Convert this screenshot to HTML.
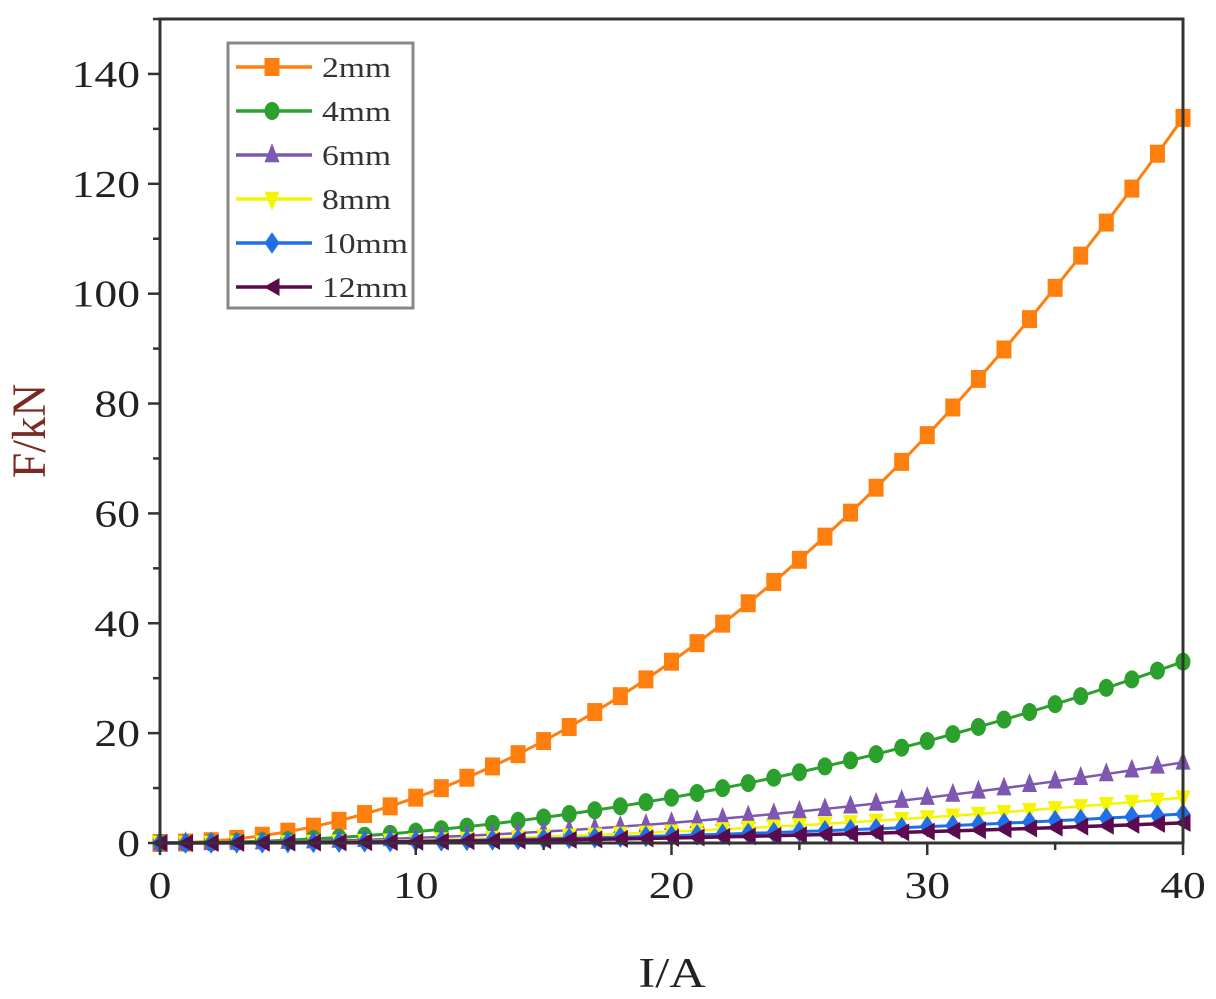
<!DOCTYPE html>
<html><head><meta charset="utf-8"><style>
body{margin:0;background:#fff}
svg{display:block;font-family:"Liberation Serif",serif}
</style></head><body>
<svg id="chart" width="1216" height="999" viewBox="0 0 1216 999">
<g id="marks"></g>
<g id="axes"></g>
<g id="legend"></g>
</svg>
<script>
const xValues=[0,1,2,3,4,5,6,7,8,9,10,11,12,13,14,15,16,17,18,19,20,21,22,23,24,25,26,27,28,29,30,31,32,33,34,35,36,37,38,39,40];
const s2mm=[0,0.08,0.33,0.74,1.32,2.06,2.97,4.04,5.28,6.68,8.25,9.98,11.88,13.94,16.17,18.56,21.12,23.84,26.73,29.78,33,36.38,39.93,43.64,47.52,51.56,55.77,60.14,64.68,69.38,74.25,79.28,84.48,89.84,95.37,101.06,106.92,112.94,119.13,125.48,132];
const s4mm=[0,0.02,0.08,0.19,0.33,0.52,0.74,1.01,1.32,1.67,2.06,2.5,2.97,3.49,4.04,4.64,5.28,5.96,6.68,7.45,8.25,9.1,9.98,10.91,11.88,12.89,13.94,15.04,16.17,17.35,18.56,19.82,21.12,22.46,23.84,25.27,26.73,28.24,29.78,31.37,33];
const s6mm=[0,0.01,0.04,0.08,0.15,0.23,0.33,0.45,0.59,0.74,0.92,1.11,1.32,1.55,1.8,2.06,2.35,2.65,2.97,3.31,3.67,4.04,4.44,4.85,5.28,5.73,6.2,6.68,7.19,7.71,8.25,8.81,9.39,9.98,10.6,11.23,11.88,12.55,13.24,13.94,14.67];
const s8mm=[0,0.01,0.02,0.05,0.08,0.13,0.19,0.25,0.33,0.42,0.52,0.62,0.74,0.87,1.01,1.16,1.32,1.49,1.67,1.86,2.06,2.27,2.5,2.73,2.97,3.22,3.49,3.76,4.04,4.34,4.64,4.96,5.28,5.61,5.96,6.32,6.68,7.06,7.45,7.84,8.25];
const s10mm=[0,0,0.01,0.03,0.05,0.08,0.12,0.16,0.21,0.27,0.33,0.4,0.48,0.56,0.65,0.74,0.84,0.95,1.07,1.19,1.32,1.46,1.6,1.75,1.9,2.06,2.23,2.41,2.59,2.78,2.97,3.17,3.38,3.59,3.81,4.04,4.28,4.52,4.77,5.02,5.28];
const s12mm=[0,0,0.01,0.02,0.04,0.06,0.08,0.11,0.15,0.19,0.23,0.28,0.33,0.39,0.45,0.52,0.59,0.66,0.74,0.83,0.92,1.01,1.11,1.21,1.32,1.43,1.55,1.67,1.8,1.93,2.06,2.2,2.35,2.5,2.65,2.81,2.97,3.14,3.31,3.49,3.67];
const seriesNames=["2mm","4mm","6mm","8mm","10mm","12mm"];
const xTicks=[0,10,20,30,40];
const yTicks=[0,20,40,60,80,100,120,140];

const NS="http://www.w3.org/2000/svg";
const X0=160,X1=1183,Y0=843,Y1=19,XMAX=40,YMAX=150;
function sx(v){return X0+(v/XMAX)*(X1-X0);}
function sy(v){return Y0-(v/YMAX)*(Y0-Y1);}
function mk(tag,attrs,parent){const e=document.createElementNS(NS,tag);for(const k in attrs)e.setAttribute(k,attrs[k]);parent.appendChild(e);return e;}
const styles=[
 {c:"#ff7f0e",m:"square",w:3},
 {c:"#2ca02c",m:"circle",w:3},
 {c:"#7e57b0",m:"up",w:2.5},
 {c:"#f5f500",m:"down",w:2.5},
 {c:"#1f6fe8",m:"diamond",w:3},
 {c:"#5c0a4e",m:"left",w:3.5}
];
const allSeries=[s2mm,s4mm,s6mm,s8mm,s10mm,s12mm];
function marker(g,type,x,y,c,r,h){
 let e;
 if(type==="square")e=mk("rect",{x:x-r,y:y-h,width:2*r,height:2*h,fill:c},g);
 else if(type==="circle")e=mk("ellipse",{cx:x,cy:y,rx:r,ry:h,fill:c},g);
 else if(type==="up")e=mk("polygon",{points:`${x},${y-h*1.3} ${x-r},${y+h*0.8} ${x+r},${y+h*0.8}`,fill:c},g);
 else if(type==="down")e=mk("polygon",{points:`${x},${y+h*1.3} ${x-r},${y-h*0.8} ${x+r},${y-h*0.8}`,fill:c},g);
 else if(type==="diamond")e=mk("polygon",{points:`${x},${y-h*1.2} ${x+r},${y} ${x},${y+h*1.2} ${x-r},${y}`,fill:c},g);
 else e=mk("polygon",{points:`${x-r*1.1},${y} ${x+r},${y-h} ${x+r},${y+h}`,fill:c},g);
 return e;
}
const marks=document.getElementById("marks");
allSeries.forEach((data,si)=>{
 const st=styles[si];
 const g=mk("g",{},marks);
 
 
 const pts=data.map((v,i)=>sx(xValues[i])+","+sy(v)).join(" ");
 const pl=mk("polyline",{points:pts,fill:"none",stroke:st.c,"stroke-width":st.w},g);
 
 
 data.forEach((v,i)=>{
  const m=marker(g,st.m,sx(xValues[i]),sy(v),st.c,7.5,9);
  
  
 });
});
const axes=document.getElementById("axes");
const frame=mk("rect",{x:X0,y:Y1,width:X1-X0,height:Y0-Y1,fill:"none",stroke:"#333","stroke-width":3},axes);


for(let v=0;v<=XMAX;v+=5){
 const major=v%10===0;
 mk("line",{x1:sx(v),x2:sx(v),y1:Y0,y2:Y0+(major?12:7),stroke:"#333","stroke-width":2.5},axes);
}
for(let v=0;v<=YMAX;v+=10){
 const major=v%20===0;
 mk("line",{x1:X0,x2:X0-(major?12:7),y1:sy(v),y2:sy(v),stroke:"#333","stroke-width":2.5},axes);
}
xTicks.forEach(v=>{
 const t=mk("text",{x:0,y:0,"font-size":38,"text-anchor":"middle",fill:"#222",transform:`translate(${sx(v)},${Y0+55}) scale(1.2,1)`},axes);
 t.textContent=v;
 
 
});
yTicks.forEach(v=>{
 const t=mk("text",{x:0,y:0,"font-size":38,"text-anchor":"end",fill:"#222",transform:`translate(${X0-20},${sy(v)+13}) scale(1.2,1)`},axes);
 t.textContent=v;
 
 
});
const xt=mk("text",{x:0,y:0,"font-size":42,"text-anchor":"middle",fill:"#222",transform:"translate(672,987) scale(1.2,1)"},axes);
xt.textContent="I/A";


const yt=mk("text",{x:0,y:0,"font-size":40,"text-anchor":"middle",fill:"#7a2a22",transform:"translate(45,431) rotate(-90) scale(1.15,1.2)"},axes);
yt.textContent="F/kN";



const lg=document.getElementById("legend");


mk("rect",{x:228,y:43,width:185,height:265,fill:"#fff",stroke:"#888","stroke-width":3},lg);
seriesNames.forEach((n,i)=>{
 const st=styles[i];const y=67+i*44;
 const g=mk("g",{},lg);
 
 
 mk("line",{x1:236,x2:312,y1:y,y2:y,stroke:st.c,"stroke-width":3.5},g);
 marker(g,st.m,272,y,st.c,7.5,9);
 const t=mk("text",{x:0,y:0,"font-size":28,fill:"#333",transform:`translate(322,${y+10}) scale(1.2,1)`},g);
 t.textContent=n;
});
</script>
</body></html>
